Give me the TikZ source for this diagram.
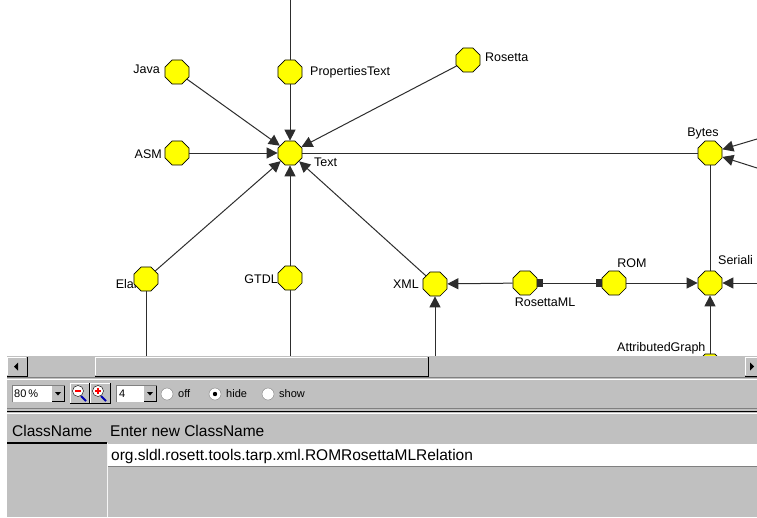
\documentclass[tikz,border=0pt]{standalone}
\usepackage{fontspec}
\setmainfont{Liberation Sans}
\usetikzlibrary{shapes.geometric,arrows.meta}

\definecolor{winGray}{RGB}{192,192,192}
\definecolor{winDark}{RGB}{128,128,128}
\definecolor{nodeYellow}{RGB}{255,255,0}
\definecolor{lineGray}{RGB}{45,45,45}

\begin{document}
\begin{tikzpicture}[x=1pt, y=-1pt,
  vertex/.style={draw=black, fill=nodeYellow, regular polygon, regular polygon sides=8,
    minimum size=26pt, inner sep=0pt, line width=0.7pt},
  vname/.style={font=\fontsize{12.5}{14}\selectfont, inner sep=0pt},
  link/.style={draw=lineGray, line width=1pt},
  linkarrow/.style={link, -{Triangle[length=11pt,width=11pt]}},
  raised/.style={fill=winGray},
  uitext/.style={font=\fontsize{15.5}{17}\selectfont, inner sep=0pt, anchor=base west},
  tooltext/.style={font=\fontsize{11}{13}\selectfont, inner sep=0pt, anchor=west},
]
\useasboundingbox (0,0) rectangle (757,517);
\fill[white] (0,0) rectangle (757,517);

% Vertex names (drawn first, the vertices cover them)
\node[vname, anchor=east] (JavaName) at (160,69) {Java};
\node[vname, anchor=west] (PropertiesTextName) at (310,72) {PropertiesText};
\node[vname, anchor=west] (RosettaName) at (485,57) {Rosetta};
\node[vname, anchor=east] (ASMName) at (162,154) {ASM};
\node[vname, anchor=west] (TextName) at (314,162) {Text};
\node[vname, anchor=south] (BytesName) at (703,139) {Bytes};
\node[vname, anchor=east] (ElanName) at (141,284) {Elan};
\node[vname, anchor=east] (GTDLName) at (278,279) {GTDL};
\node[vname, anchor=east] (XMLName) at (419,284) {XML};
\node[vname, anchor=north] (RosettaMLName) at (545,298) {RosettaML};
\node[vname, anchor=south] (ROMName) at (632,268) {ROM};
\node[vname, anchor=west] (SerialiName) at (718,260) {Seriali};
\node[vname, anchor=west] (AttributedGraphName) at (617,348) {AttributedGraph};

% Vertices
\node[vertex] (Java) at (177,72) {};
\node[vertex] (PropertiesText) at (290,72) {};
\node[vertex] (Rosetta) at (468,60) {};
\node[vertex] (ASM) at (177,153) {};
\node[vertex] (Text) at (290,153) {};
\node[vertex] (Bytes) at (710,153) {};
\node[vertex] (Elan) at (146,279) {};
\node[vertex] (GTDL) at (290,278) {};
\node[vertex] (XML) at (435,284) {};
\node[vertex] (RosettaML) at (525,283) {};
\node[vertex] (ROM) at (614,283) {};
\node[vertex] (Seriali) at (710,283) {};
\node[vertex] (AttributedGraph) at (710,366) {};

% Free ends outside the view
\coordinate (TopEnd) at (290,0);
\coordinate (ElanEnd) at (146,357);
\coordinate (GTDLEnd) at (290,357);
\coordinate (XMLEnd) at (435,357);
\coordinate (BytesInA) at (757,139);
\coordinate (BytesInB) at (757,168);
\coordinate (SerialiIn) at (757,283);

% Edges
\draw[link] (TopEnd) -- (PropertiesText);
\draw[linkarrow] (PropertiesText) -- (Text);
\draw[linkarrow] (Java) -- (Text);
\draw[linkarrow] (Rosetta) -- (Text);
\draw[linkarrow] (ASM) -- (Text);
\draw[linkarrow] (Elan) -- (Text);
\draw[linkarrow] (GTDL) -- (Text);
\draw[linkarrow] (XML) -- (Text);
\draw[link] (Text) -- (Bytes);
\draw[link] (Elan) -- (ElanEnd);
\draw[link] (GTDL) -- (GTDLEnd);
\draw[linkarrow] (XMLEnd) -- (XML);
\draw[linkarrow] (RosettaML) -- (XML);
\draw[link, {Square[length=6pt,width=8pt]}-{Square[length=6pt,width=8pt]}] (RosettaML) -- (ROM);
\draw[linkarrow] (ROM) -- (Seriali);
\draw[linkarrow] (SerialiIn) -- (Seriali);
\draw[linkarrow] (AttributedGraph) -- (Seriali);
\draw[link] (Bytes) -- (Seriali);
\draw[linkarrow] (BytesInA) -- (Bytes);
\draw[linkarrow] (BytesInB) -- (Bytes);

% Panel below the view
\fill[winGray] (7,356) rectangle (757,517);

% Scroll bar
\fill[raised] (7,357) rectangle (27,376);
\draw[white] (7.5,375) -- (7.5,357.5) -- (26,357.5);
\draw[black] (7,376.5) -- (27.5,376.5) -- (27.5,357);
\fill[black] (14,366.5) -- (18,362.5) -- (18,370.5) -- cycle;
\fill[raised] (95,357) rectangle (428,376);
\draw[white] (95.5,375) -- (95.5,357.5) -- (427,357.5);
\draw[black] (95,376.5) -- (428.5,376.5) -- (428.5,357);
\fill[raised] (745,357) rectangle (757,376);
\draw[white] (745.5,375) -- (745.5,357.5) -- (757,357.5);
\draw[black] (745,376.5) -- (757,376.5);
\fill[black] (754,366.5) -- (750,362.5) -- (750,370.5) -- cycle;
\draw[winDark] (7,377.5) -- (757,377.5);
\draw[white] (7,379) -- (757,379);

% Tool bar
\node[fill=white, minimum width=53pt, minimum height=17pt, inner sep=0pt] (ZoomBox) at (38.5,393.5) {};
\draw[winDark] (ZoomBox.south west) -- (ZoomBox.north west) -- (ZoomBox.north east);
\node[tooltext] (ZoomValue) at (14,393.5) {80\,\%};
\fill[raised] (52,386) rectangle (64,401);
\draw[black] (52,401) -- (64,401) -- (64,386);
\fill[black] (55,392) -- (61,392) -- (58,395.5) -- cycle;
\fill[raised] (70,383) rectangle (89,404);
\draw[white] (70.5,403) -- (70.5,383.5) -- (88.5,383.5);
\draw[black] (70,403.5) -- (89,403.5) -- (89,383);
\draw[blue!70!black, line width=2pt] (81,396) -- (86,401);
\draw[black, fill=white] (78,391) circle (5.5);
\draw[red, line width=1.5pt] (75,391) -- (81,391);
\fill[raised] (90,383) rectangle (110,404);
\draw[white] (90.5,403) -- (90.5,383.5) -- (109.5,383.5);
\draw[black] (90,403.5) -- (110,403.5) -- (110,383);
\draw[blue!70!black, line width=2pt] (101,396) -- (106,401);
\draw[black, fill=white] (98,391) circle (5.5);
\draw[red, line width=1.5pt] (95,391) -- (101,391) (98,388) -- (98,394);
\node[fill=white, minimum width=41pt, minimum height=17pt, inner sep=0pt] (DepthBox) at (136.5,393.5) {};
\draw[winDark] (DepthBox.south west) -- (DepthBox.north west) -- (DepthBox.north east);
\node[tooltext] (DepthValue) at (119,393.5) {4};
\fill[raised] (144,386) rectangle (156,401);
\draw[black] (144,401) -- (156,401) -- (156,386);
\fill[black] (147,392) -- (153,392) -- (150,395.5) -- cycle;
\draw[winDark, fill=white] (167,394) circle (6);
\node[tooltext] (OffText) at (178,394) {off};
\draw[winDark, fill=white] (215,394) circle (6);
\fill[black] (215,394) circle (2.2);
\node[tooltext] (HideText) at (226,394) {hide};
\draw[winDark, fill=white] (268,394) circle (6);
\node[tooltext] (ShowText) at (279,394) {show};
\draw[winDark] (7,408) -- (757,408);
\draw[black, line width=1.5pt] (7,411.5) -- (757,411.5);
\draw[white] (7,413.5) -- (757,413.5);

% Class name table
\node[uitext] (ClassHead) at (12,436) {ClassName};
\node[uitext] (EnterHead) at (110,436) {Enter new ClassName};
\draw[black, line width=1.5pt] (7,443) -- (107,443);
\draw[white!85!winGray, line width=1pt] (107.5,443) -- (107.5,517);
\fill[white] (108,444) rectangle (757,466);
\draw[winDark] (108,466.5) -- (757,466.5);
\node[uitext] (ClassValue) at (111,460) {org.sldl.rosett.tools.tarp.xml.ROMRosettaMLRelation};
\end{tikzpicture}
\end{document}
